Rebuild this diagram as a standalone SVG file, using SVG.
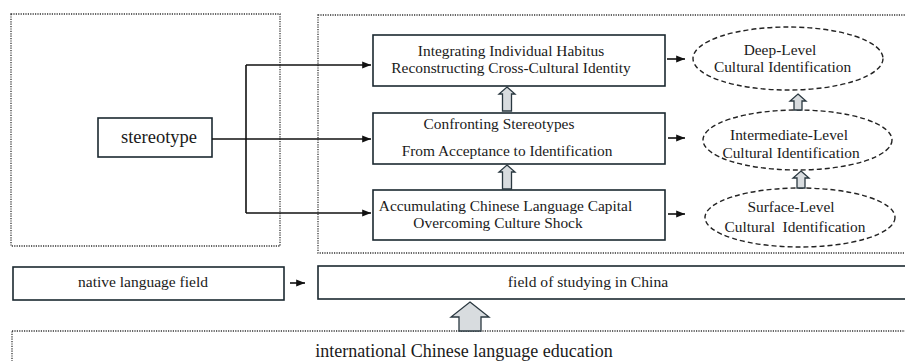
<svg xmlns="http://www.w3.org/2000/svg" width="905" height="361" viewBox="0 0 905 361">
<defs>
<style>
.tx{font-family:'Liberation Serif','DejaVu Serif',serif;fill:#1a1a1a;text-anchor:middle}
.t15{font-size:15.4px}
.box{fill:#fff;stroke:#1b2830;stroke-width:1.6}
.dot{fill:none;stroke:#333;stroke-width:1.3;stroke-dasharray:1.2 1.2}
.ell{fill:#fff;stroke:#222;stroke-width:1.4;stroke-dasharray:5 3}
.ln{fill:none;stroke:#111;stroke-width:1.6}
.hol{fill:#d8dcdf;stroke:#2a3840;stroke-width:1.3}
</style>
<marker id="ah" viewBox="0 0 10 10" refX="10" refY="5" markerWidth="5.5" markerHeight="5.5" orient="auto" markerUnits="strokeWidth">
<path d="M0,1 L10,5 L0,9 z" fill="#111"/>
</marker>
</defs>
<rect width="905" height="361" fill="#fff"/>
<g id="frames">
<rect class="dot" x="11" y="14" width="269" height="232"/>
<rect class="dot" x="318" y="15" width="600" height="238"/>
<rect class="dot" x="12" y="331" width="910" height="40"/>
</g>
<g class="tx" font-family="Liberation Serif, DejaVu Serif, serif">
<g id="stereotype">
<rect class="box" x="98" y="118" width="114" height="39"/>
<text x="159" y="143" font-size="18.5">stereotype</text>
</g>
<g id="box-top">
<rect class="box" x="373" y="35" width="292" height="51"/>
<text class="t15" x="511" y="55.5">Integrating Individual Habitus</text>
<text class="t15" x="511" y="72.5">Reconstructing Cross-Cultural Identity</text>
</g>
<g id="box-mid">
<rect class="box" x="373" y="113" width="292" height="51"/>
<text class="t15" x="499" y="129">Confronting Stereotypes</text>
<text class="t15" x="507" y="156">From Acceptance to Identification</text>
</g>
<g id="box-bot">
<rect class="box" x="373" y="190" width="292" height="50"/>
<text class="t15" x="505.5" y="211">Accumulating Chinese Language Capital</text>
<text class="t15" x="498" y="228">Overcoming Culture Shock</text>
</g>
<g id="ell-deep">
<ellipse class="ell" cx="788" cy="58.5" rx="95" ry="31.5"/>
<text class="t15" x="780" y="55">Deep-Level</text>
<text class="t15" x="782.5" y="72">Cultural Identification</text>
</g>
<g id="ell-mid">
<ellipse class="ell" cx="797.5" cy="140" rx="94.5" ry="30"/>
<text class="t15" x="789" y="140">Intermediate-Level</text>
<text class="t15" x="791" y="158">Cultural Identification</text>
</g>
<g id="ell-surf">
<ellipse class="ell" cx="800" cy="217.5" rx="95" ry="29.5"/>
<text class="t15" x="791" y="212">Surface-Level</text>
<text class="t15" x="795" y="232" xml:space="preserve">Cultural  Identification</text>
</g>
<g id="native">
<rect class="box" x="13" y="267" width="271" height="33"/>
<text x="143" y="287" font-size="15.5">native language field</text>
</g>
<g id="field-china">
<rect class="box" x="318" y="266" width="600" height="33"/>
<text x="588" y="287" font-size="15.6">field of studying in China</text>
</g>
<g id="education">
<text x="464" y="357" font-size="18">international Chinese language education</text>
</g>
</g>
<g id="connectors">
<path class="ln" d="M212,139 H371" marker-end="url(#ah)"/>
<path class="ln" d="M246,65 V213"/>
<path class="ln" d="M246,65 H371" marker-end="url(#ah)"/>
<path class="ln" d="M246,213 H371" marker-end="url(#ah)"/>
<path class="ln" d="M667,59 H685" marker-end="url(#ah)"/>
<path class="ln" d="M668,138 H685" marker-end="url(#ah)"/>
<path class="ln" d="M668,214 H685" marker-end="url(#ah)"/>
<path class="ln" d="M290,283 H305" marker-end="url(#ah)"/>
<path class="hol" d="M507,87 L515,94 L511.5,94 L511.5,111 L502.5,111 L502.5,94 L499,94 Z"/>
<path class="hol" d="M507,165 L515,172 L511.5,172 L511.5,189 L502.5,189 L502.5,172 L499,172 Z"/>
<path class="hol" d="M798,94 L806,101 L802,101 L802,110 L794,110 L794,101 L790,101 Z"/>
<path class="hol" d="M801,171 L809,178 L805,178 L805,188 L797,188 L797,178 L793,178 Z"/>
<path class="hol" d="M470,302 L489,317 L481,317 L481,331 L459,331 L459,317 L451,317 Z"/>
</g>
</svg>
